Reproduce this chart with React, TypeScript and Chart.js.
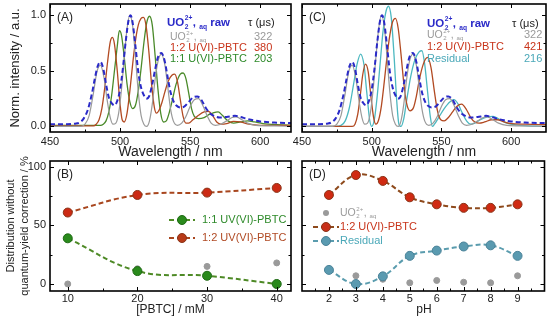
import React, { useEffect, useRef } from "react";
import { Chart, registerables } from "chart.js";
Chart.register(...registerables);

const W = 550;
const H = 321;
const FONT = "'Liberation Sans', Arial, Helvetica, sans-serif";

// ---------- spectra (wavelength nm, normalised intensity) ----------
const rawSpec: [number, number][] = [
  [450, 0.02], [462, 0.02], [468, 0.025], [471, 0.035], [474, 0.07], [477, 0.15], [480, 0.3], [482, 0.43], [484, 0.54], [486, 0.58],
  [488, 0.52], [490, 0.38], [492, 0.26], [494, 0.21], [496, 0.19], [498, 0.23], [500, 0.33], [502, 0.52], [504, 0.76], [506, 0.95],
  [507.5, 1.0], [509, 0.93], [511, 0.72], [513, 0.49], [515, 0.35], [517, 0.28], [519, 0.25], [521, 0.28], [523, 0.38], [525, 0.51],
  [527, 0.62], [529.5, 0.66], [532, 0.58], [534, 0.44], [536, 0.31], [538, 0.23], [540, 0.19], [543, 0.17], [546, 0.18], [549, 0.22],
  [552, 0.26], [555, 0.27], [558, 0.24], [561, 0.17], [564, 0.12], [567, 0.095], [571, 0.08], [576, 0.085], [582, 0.095], [586, 0.085],
  [590, 0.07], [595, 0.055], [600, 0.045], [610, 0.035], [625, 0.03],
];
const aqSpec: [number, number][] = [
  [450, 0], [472, 0], [475, 0.02], [478, 0.1], [481, 0.3], [483.5, 0.49], [486, 0.55], [488.5, 0.44], [491, 0.22], [493, 0.08],
  [495, 0.02], [497, 0.03], [499, 0.12], [501, 0.33], [503, 0.62], [505, 0.88], [507, 1.0], [509, 0.9], [511, 0.62], [513, 0.31],
  [515, 0.1], [517, 0.02], [519, 0.0], [521, 0.05], [523, 0.2], [525, 0.42], [527, 0.58], [529.5, 0.65], [532, 0.55], [534, 0.36],
  [536, 0.16], [538, 0.05], [541, 0.01], [544, 0.03], [547, 0.09], [550, 0.18], [553, 0.24], [556, 0.25], [559, 0.19], [562, 0.1],
  [565, 0.03], [568, 0.01], [572, 0.02], [576, 0.05], [580, 0.08], [583, 0.085], [587, 0.06], [591, 0.03], [597, 0.01], [610, 0.005], [625, 0],
];
const pbtc12SpecA: [number, number][] = [
  [450, 0.005], [470, 0.005], [481, 0.005], [483, 0.02], [485, 0.06], [487, 0.16], [489, 0.34], [491, 0.57], [493, 0.76], [494.5, 0.8],
  [496, 0.74], [498, 0.5], [500, 0.2], [501.5, 0.06], [503, 0.04], [505, 0.12], [507, 0.32], [509, 0.56], [511, 0.77], [513, 0.91],
  [515, 0.97], [516.7, 0.98], [518.5, 0.91], [520.5, 0.68], [522.5, 0.38], [524.5, 0.17], [526, 0.12], [528, 0.15], [530, 0.22], [532, 0.31],
  [534.5, 0.41], [537, 0.46], [539, 0.47], [541, 0.4], [543, 0.24], [545, 0.09], [547, 0.03], [549, 0.03], [552, 0.06], [556, 0.1],
  [560, 0.13], [563, 0.135], [566, 0.1], [569, 0.04], [572, 0.02], [576, 0.025], [581, 0.045], [586, 0.04], [592, 0.02], [600, 0.01], [625, 0.01],
];
const pbtc11SpecA: [number, number][] = [
  [450, 0.01], [470, 0.01], [486, 0.01], [488, 0.02], [490, 0.05], [492, 0.13], [494, 0.28], [496, 0.5], [498, 0.72], [499.5, 0.86],
  [501, 0.82], [503, 0.62], [505, 0.38], [507, 0.22], [509, 0.16], [511, 0.19], [513, 0.32], [515, 0.52], [517, 0.75], [519, 0.93],
  [521, 0.99], [523, 0.91], [525, 0.64], [527, 0.34], [529, 0.12], [531, 0.04], [533, 0.05], [535, 0.12], [537, 0.22], [540, 0.38],
  [543, 0.47], [545, 0.48], [547, 0.43], [549, 0.3], [551, 0.16], [553, 0.09], [556, 0.07], [560, 0.08], [564, 0.11], [567, 0.125],
  [570, 0.13], [573, 0.1], [577, 0.05], [581, 0.03], [586, 0.04], [591, 0.05], [596, 0.04], [602, 0.025], [612, 0.015], [625, 0.01],
];
const pbtc12SpecC: [number, number][] = [
  [450, 0], [486, 0], [488, 0.02], [490, 0.11], [492, 0.3], [493.5, 0.46], [495.5, 0.56], [497.5, 0.49], [499.5, 0.26], [501.5, 0.07],
  [503, 0.02], [505, 0.06], [507, 0.19], [509, 0.4], [511, 0.63], [513, 0.82], [515, 0.94], [517, 0.97], [519, 0.88], [521, 0.65],
  [523, 0.39], [525, 0.21], [527.5, 0.14], [530, 0.17], [532, 0.27], [534, 0.41], [537, 0.56], [540, 0.62], [542.5, 0.53], [545, 0.31],
  [547, 0.15], [549.5, 0.06], [552, 0.05], [555, 0.08], [558, 0.13], [561, 0.18], [564.5, 0.2], [568, 0.15], [571, 0.08], [574, 0.04],
  [577, 0.03], [581, 0.04], [586, 0.06], [590, 0.06], [595, 0.04], [600, 0.025], [610, 0.02], [625, 0.015],
];
const residualSpec: [number, number][] = [
  [450, 0], [474, 0], [478, 0.01], [481, 0.05], [484, 0.17], [487, 0.38], [489.5, 0.56], [492, 0.65], [494.5, 0.55], [496.5, 0.3],
  [498.5, 0.06], [500, 0.0], [502, 0.07], [504, 0.28], [506, 0.56], [508, 0.84], [510, 1.02], [512, 1.08], [514, 0.98], [516, 0.64],
  [518, 0.22], [519.5, 0.02], [521, 0.0], [523, 0.07], [525, 0.23], [528, 0.45], [531, 0.6], [534, 0.67], [536, 0.68], [538, 0.56],
  [540, 0.32], [542, 0.09], [543.5, 0.0], [545, 0.02], [548, 0.08], [552, 0.16], [556, 0.22], [559, 0.24], [562, 0.2], [565, 0.12],
  [568, 0.05], [571, 0.02], [574, 0.03], [578, 0.06], [583, 0.085], [587, 0.09], [592, 0.06], [598, 0.025], [606, 0.01], [625, 0],
];

// ---------- distributions ----------
const pbtcConc = [10, 20, 30, 40];
const distB11 = [39, 11, 7, 0];
const distB12 = [61, 76, 78, 82];
const distBAq = [0, 13, 15, 18];

const phValues = [2, 3, 4, 5, 6, 7, 8, 9];
const distD12 = [76, 93, 88, 74, 68, 65, 65, 68];
const distDRes = [12, 0, 6.5, 24, 28.5, 32, 33, 24];
const distDAq = [12, 7, 4, 1, 3, 1.5, 1, 7];

// ---------- ticks ----------
const specXMajor = [450, 500, 550, 600];
const specXMinor = [475, 525, 575];
const specYMajor = [0, 0.5, 1.0];
const specYMinor = [0.25, 0.75];
const pbtcXMajor = [10, 20, 30, 40];
const pbtcXMinor = [15, 25, 35];
const distYMajor = [0, 50, 100];
const distYMinor = [25, 75];
const phXMajor = [2, 3, 4, 5, 6, 7, 8, 9];
const phXMinor = [1.5, 2.5, 3.5, 4.5, 5.5, 6.5, 7.5, 8.5, 9.5];

// ---------- colours ----------
const BLUE = "#2a2ac8";
const GRAY = "#9a9a9a";
const RED_LINE = "#b24a22";
const RED_TXT = "#c8341a";
const GREEN_LINE = "#4a8a2a";
const GREEN_TXT = "#2e8a2a";
const CYAN = "#4cb8c0";
const RES_TXT = "#4aa8b8";

type Area = { l: number; t: number; r: number; b: number };
const areaA: Area = { l: 50, t: 4, r: 291, b: 132 };
const areaC: Area = { l: 302, t: 4, r: 546, b: 132 };
const areaB: Area = { l: 50, t: 161, r: 291, b: 291 };
const areaD: Area = { l: 302, t: 161, r: 546, b: 291 };

const toPts = (p: [number, number][]) => p.map(([x, y]) => ({ x, y }));
const zipPts = (xs: number[], ys: number[]) => xs.map((x, i) => ({ x, y: ys[i] }));

function txt(ctx: any, s: string, x: number, y: number, size: number, color: string, weight = "normal", align = "left") {
  ctx.save();
  ctx.font = `${weight} ${size}px ${FONT}`;
  ctx.fillStyle = color;
  ctx.textAlign = align;
  ctx.textBaseline = "middle";
  ctx.fillText(s, x, y);
  ctx.restore();
}
function vtxt(ctx: any, s: string, x: number, y: number, size: number, color = "#222") {
  ctx.save();
  ctx.translate(x, y);
  ctx.rotate(-Math.PI / 2);
  ctx.font = `${size}px ${FONT}`;
  ctx.fillStyle = color;
  ctx.textAlign = "center";
  ctx.textBaseline = "middle";
  ctx.fillText(s, 0, 0);
  ctx.restore();
}
function uo2(ctx: any, x: number, y: number, size: number, color: string, weight: string, tail: string) {
  ctx.save();
  ctx.fillStyle = color;
  ctx.textAlign = "left";
  ctx.textBaseline = "middle";
  const f = (s: number) => `${weight} ${s}px ${FONT}`;
  ctx.font = f(size);
  ctx.fillText("UO", x, y);
  let cx = x + ctx.measureText("UO").width;
  const sm = size * 0.58;
  ctx.font = f(sm);
  ctx.fillText("2", cx + 0.5, y + size * 0.32);
  ctx.fillText("2+", cx + 0.5, y - size * 0.38);
  cx += ctx.measureText("2+").width + 1;
  ctx.font = f(size);
  ctx.fillText(",", cx, y);
  cx += ctx.measureText(", ").width;
  ctx.font = f(sm);
  ctx.fillText("aq", cx, y + size * 0.32);
  cx += ctx.measureText("aq").width;
  if (tail) {
    ctx.font = f(size);
    ctx.fillText(tail, cx, y);
  }
  ctx.restore();
}
function legendMarker(ctx: any, x: number, y: number, line: string, fill: string, edge: string) {
  ctx.save();
  ctx.strokeStyle = line;
  ctx.lineWidth = 2;
  ctx.setLineDash([5, 3]);
  ctx.beginPath();
  ctx.moveTo(x - 13, y);
  ctx.lineTo(x + 13, y);
  ctx.stroke();
  ctx.setLineDash([]);
  ctx.fillStyle = fill;
  ctx.strokeStyle = edge;
  ctx.lineWidth = 1;
  ctx.beginPath();
  ctx.arc(x, y, 4.5, 0, Math.PI * 2);
  ctx.fill();
  ctx.stroke();
  ctx.restore();
}

function framePlugin(xMaj: number[], xMin: number[], yMaj: number[], yMin: number[]) {
  return {
    id: "frame",
    afterDatasetsDraw(chart: any) {
      const { ctx, chartArea: a, scales } = chart;
      const sx = scales.x;
      const sy = scales.y;
      ctx.save();
      ctx.strokeStyle = "#000";
      ctx.lineWidth = 1;
      const tx = (v: number, len: number) => {
        const p = Math.round(sx.getPixelForValue(v)) + 0.5;
        ctx.beginPath();
        ctx.moveTo(p, a.bottom);
        ctx.lineTo(p, a.bottom - len);
        ctx.moveTo(p, a.top);
        ctx.lineTo(p, a.top + len);
        ctx.stroke();
      };
      const ty = (v: number, len: number) => {
        const p = Math.round(sy.getPixelForValue(v)) + 0.5;
        ctx.beginPath();
        ctx.moveTo(a.left, p);
        ctx.lineTo(a.left + len, p);
        ctx.moveTo(a.right, p);
        ctx.lineTo(a.right - len, p);
        ctx.stroke();
      };
      xMaj.forEach((v) => tx(v, 4));
      xMin.forEach((v) => tx(v, 2.5));
      yMaj.forEach((v) => ty(v, 4));
      yMin.forEach((v) => ty(v, 2.5));
      ctx.lineWidth = 1.6;
      ctx.strokeRect(a.left, a.top, a.right - a.left, a.bottom - a.top);
      ctx.restore();
    },
  };
}

function textPlugin(draw: (ctx: any) => void) {
  return { id: "texts", afterDraw(chart: any) { draw(chart.ctx); } };
}

function baseOptions(area: Area, xr: [number, number], yr: [number, number], xTicks: number[], yTicks: number[], fmtY: (v: number) => string, tickSize: number, xPad: number) {
  const fixW = (s: any) => { s.width = area.l; s.paddingLeft = 0; s.paddingRight = 0; s.paddingTop = 0; s.paddingBottom = 0; };
  const fixH = (s: any) => { s.height = H - area.b; s.paddingLeft = 0; s.paddingRight = 0; s.paddingTop = 0; s.paddingBottom = 0; };
  return {
    responsive: false,
    animation: false,
    events: [],
    layout: { padding: { left: 0, top: area.t, right: W - area.r, bottom: 0 } },
    plugins: { legend: { display: false }, tooltip: { enabled: false } },
    scales: {
      x: {
        type: "linear",
        min: xr[0],
        max: xr[1],
        grid: { display: false, drawTicks: false },
        border: { display: false },
        ticks: { font: { family: FONT, size: tickSize }, color: "#222", padding: xPad, maxRotation: 0, autoSkip: false, callback: (v: number) => String(v) },
        afterBuildTicks: (s: any) => { s.ticks = xTicks.map((v) => ({ value: v })); },
        afterFit: fixH,
      },
      y: {
        type: "linear",
        min: yr[0],
        max: yr[1],
        grid: { display: false, drawTicks: false },
        border: { display: false },
        ticks: { display: yTicks.length > 0, font: { family: FONT, size: tickSize }, color: "#222", padding: 4, autoSkip: false, callback: (v: number) => fmtY(v) },
        afterBuildTicks: (s: any) => { s.ticks = (yTicks.length ? yTicks : specYMajor).map((v) => ({ value: v })); },
        afterFit: fixW,
      },
    },
  };
}

const specLine = (data: any, color: string, width: number, dash: number[] = []) => ({
  data,
  borderColor: color,
  borderWidth: width,
  borderDash: dash,
  pointRadius: 0,
  fill: false,
  cubicInterpolationMode: "monotone",
});

const distLine = (data: any, line: string, fill: string, edge: string) => ({
  data,
  borderColor: line,
  borderWidth: 2,
  borderDash: [5, 3],
  pointRadius: 4.5,
  pointBackgroundColor: fill,
  pointBorderColor: edge,
  pointBorderWidth: 1,
  tension: 0.4,
  fill: false,
});

const grayDots = (data: any) => ({
  data,
  showLine: false,
  pointRadius: 3,
  pointBackgroundColor: GRAY,
  pointBorderColor: GRAY,
  borderColor: GRAY,
});

function configA() {
  return {
    type: "line",
    data: {
      datasets: [
        specLine(toPts(rawSpec), BLUE, 2, [5, 3]),
        specLine(toPts(aqSpec), GRAY, 1.2),
        specLine(toPts(pbtc12SpecA), RED_LINE, 1.3),
        specLine(toPts(pbtc11SpecA), GREEN_LINE, 1.3),
      ],
    },
    options: baseOptions(areaA, [450, 622], [-0.05, 1.1], specXMajor, specYMajor, (v) => v.toFixed(1), 11, 3),
    plugins: [
      framePlugin(specXMajor, specXMinor, specYMajor, specYMinor),
      textPlugin((ctx) => {
        txt(ctx, "(A)", 57, 18, 12, "#222");
        uo2(ctx, 167, 23, 11.5, BLUE, "bold", " raw");
        txt(ctx, "τ (μs)", 248, 23, 11, "#222");
        uo2(ctx, 170, 37, 10.5, GRAY, "normal", "");
        txt(ctx, "322", 254, 37, 11, GRAY);
        txt(ctx, "1:2 U(VI)-PBTC", 170, 48, 11, RED_TXT);
        txt(ctx, "380", 254, 48, 11, RED_TXT);
        txt(ctx, "1:1 U(VI)-PBTC", 170, 59, 11, GREEN_TXT);
        txt(ctx, "203", 254, 59, 11, GREEN_TXT);
        txt(ctx, "Wavelength / nm", (areaA.l + areaA.r) / 2, 152, 14, "#222", "normal", "center");
        vtxt(ctx, "Norm. intensity / a.u.", 15, (areaA.t + areaA.b) / 2, 13);
      }),
    ],
  };
}

function configC() {
  return {
    type: "line",
    data: {
      datasets: [
        specLine(toPts(rawSpec), BLUE, 2, [5, 3]),
        specLine(toPts(aqSpec), GRAY, 1.2),
        specLine(toPts(pbtc12SpecC), RED_LINE, 1.3),
        specLine(toPts(residualSpec), CYAN, 1.3),
      ],
    },
    options: baseOptions(areaC, [450, 625], [-0.05, 1.1], specXMajor, [], (v) => v.toFixed(1), 11, 3),
    plugins: [
      framePlugin(specXMajor, specXMinor, specYMajor, specYMinor),
      textPlugin((ctx) => {
        txt(ctx, "(C)", 309, 18, 12, "#222");
        uo2(ctx, 427, 24, 11.5, BLUE, "bold", " raw");
        txt(ctx, "τ (μs)", 512, 24, 11, "#222");
        uo2(ctx, 427, 35, 10.5, GRAY, "normal", "");
        txt(ctx, "322", 524, 35, 11, GRAY);
        txt(ctx, "1:2 U(VI)-PBTC", 427, 47, 11, RED_TXT);
        txt(ctx, "421", 524, 47, 11, RED_TXT);
        txt(ctx, "Residual", 427, 59, 11, RES_TXT);
        txt(ctx, "216", 524, 59, 11, RES_TXT);
        txt(ctx, "Wavelength / nm", (areaC.l + areaC.r) / 2, 152, 14, "#222", "normal", "center");
      }),
    ],
  };
}

function configB() {
  return {
    type: "line",
    data: {
      datasets: [
        distLine(zipPts(pbtcConc, distB12), "#a8461e", "#cc2a14", "#8a3418"),
        distLine(zipPts(pbtcConc, distB11), "#4e8a26", "#2a8a1c", "#1e6a14"),
        grayDots(zipPts(pbtcConc, distBAq)),
      ],
    },
    options: baseOptions(areaB, [7.45, 42.05], [-6, 105], pbtcXMajor, distYMajor, (v) => String(v), 11, 1),
    plugins: [
      framePlugin(pbtcXMajor, pbtcXMinor, distYMajor, distYMinor),
      textPlugin((ctx) => {
        txt(ctx, "(B)", 57, 175, 12, "#222");
        legendMarker(ctx, 182, 220, "#4e8a26", "#2a8a1c", "#1e6a14");
        txt(ctx, "1:1 UV(VI)-PBTC", 202, 220, 11, GREEN_TXT);
        legendMarker(ctx, 182, 238, "#a8461e", "#b83a18", "#8a3418");
        txt(ctx, "1:2 UV(VI)-PBTC", 202, 238, 11, "#b04a24");
        txt(ctx, "[PBTC] / mM", (areaB.l + areaB.r) / 2, 310, 12, "#222", "normal", "center");
        vtxt(ctx, "Distribution without", 11, 226, 11);
        vtxt(ctx, "quantum-yield correction / %", 25, 226, 11);
      }),
    ],
  };
}

function configD() {
  return {
    type: "line",
    data: {
      datasets: [
        distLine(zipPts(phValues, distD12), "#8e4a1c", "#d02a12", "#8a3418"),
        distLine(zipPts(phValues, distDRes), "#5a9cae", "#5a9ab0", "#4a8298"),
        grayDots(zipPts(phValues, distDAq)),
      ],
    },
    options: baseOptions(areaD, [1, 10], [-6, 105], phXMajor, [], (v) => String(v), 11, 1),
    plugins: [
      framePlugin(phXMajor, phXMinor, distYMajor, distYMinor),
      textPlugin((ctx) => {
        txt(ctx, "(D)", 309, 175, 12, "#222");
        ctx.save();
        ctx.fillStyle = GRAY;
        ctx.beginPath();
        ctx.arc(326, 213, 3, 0, Math.PI * 2);
        ctx.fill();
        ctx.restore();
        uo2(ctx, 340, 213, 10.5, GRAY, "normal", "");
        legendMarker(ctx, 326, 227, "#8e4a1c", "#c8301a", "#8a3418");
        txt(ctx, "1:2 U(VI)-PBTC", 340, 227, 11, RED_TXT);
        legendMarker(ctx, 326, 241, "#5a9cae", "#5a9ab0", "#4a8298");
        txt(ctx, "Residual", 340, 241, 11, RES_TXT);
        txt(ctx, "pH", (areaD.l + areaD.r) / 2, 310, 12, "#222", "normal", "center");
      }),
    ],
  };
}

function Panel({ build }: { build: () => any }) {
  const ref = useRef<HTMLCanvasElement | null>(null);
  useEffect(() => {
    const chart = new Chart(ref.current as HTMLCanvasElement, build());
    return () => chart.destroy();
  }, []);
  return <canvas ref={ref} width={W} height={H} style={{ position: "absolute", left: 0, top: 0, width: W, height: H }} />;
}

export default function App() {
  return (
    <div style={{ position: "fixed", left: 0, top: 0, width: W, height: H, background: "#fff" }}>
      <Panel build={configA} />
      <Panel build={configC} />
      <Panel build={configB} />
      <Panel build={configD} />
    </div>
  );
}
